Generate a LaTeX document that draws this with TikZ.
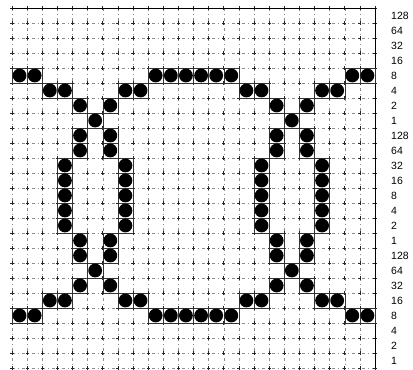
\documentclass[tikz,border=0pt]{standalone}
\usepackage{fontspec}
\setmainfont{Liberation Sans}
\begin{document}
\begin{tikzpicture}[x=1pt,y=-1pt,
  gridline/.style={black!45, line width=0.4pt, dash pattern=on 3pt off 3pt on 1pt off 3pt},
  crossmark/.style={black!85, line width=0.6pt},
  dotcell/.style={draw=black!80, line width=0.5pt},
  dotmark/.style={fill=black},
  lbl/.style={anchor=west, inner sep=0pt, font=\fontsize{10.5}{12}\selectfont}]
\useasboundingbox (0,0) rectangle (413,370);
% grid lines
\foreach \i in {0,...,24} {
  \draw[gridline] ({12+\i*15.125},8) -- ({12+\i*15.125},368);
  \draw[gridline] (12,{8+\i*15}) -- (375,{8+\i*15});
}
% crosses at intersections
\foreach \i in {0,...,24} {
  \foreach \j in {0,...,24} {
    \draw[crossmark] ({12+\i*15.125-1.6},{8+\j*15}) -- ++(3.2,0)
                     ({12+\i*15.125},{8+\j*15-1.6}) -- ++(0,3.2);
  }
}
% solid border (top and right)
\draw[line width=0.7pt] (12,8) -- (375,8) -- (375,368);
% dots
\foreach \r/\cols in {
  4/{0,1,9,10,11,12,13,14,22,23},
  5/{2,3,7,8,15,16,20,21},
  6/{4,6,17,19},
  7/{5,18},
  8/{4,6,17,19},
  9/{4,6,17,19},
  10/{3,7,16,20},
  11/{3,7,16,20},
  12/{3,7,16,20},
  13/{3,7,16,20},
  14/{3,7,16,20},
  15/{4,6,17,19},
  16/{4,6,17,19},
  17/{5,18},
  18/{4,6,17,19},
  19/{2,3,7,8,15,16,20,21},
  20/{0,1,9,10,11,12,13,14,22,23}} {
  \foreach \c in \cols {
    \draw[dotcell] ({12+\c*15.125},{8+\r*15}) rectangle ({12+(\c+1)*15.125},{8+(\r+1)*15});
    \fill[dotmark] ({12+(\c+0.5)*15.125},{8+(\r+0.5)*15}) circle (6.9);
  }
}
% row labels
\foreach \v [count=\k from 0] in {128,64,32,16,8,4,2,1,128,64,32,16,8,4,2,1,128,64,32,16,8,4,2,1} {
  \node[lbl] (L\k) at (391,{15.5+\k*15}) {\v};
}
\end{tikzpicture}
\end{document}
